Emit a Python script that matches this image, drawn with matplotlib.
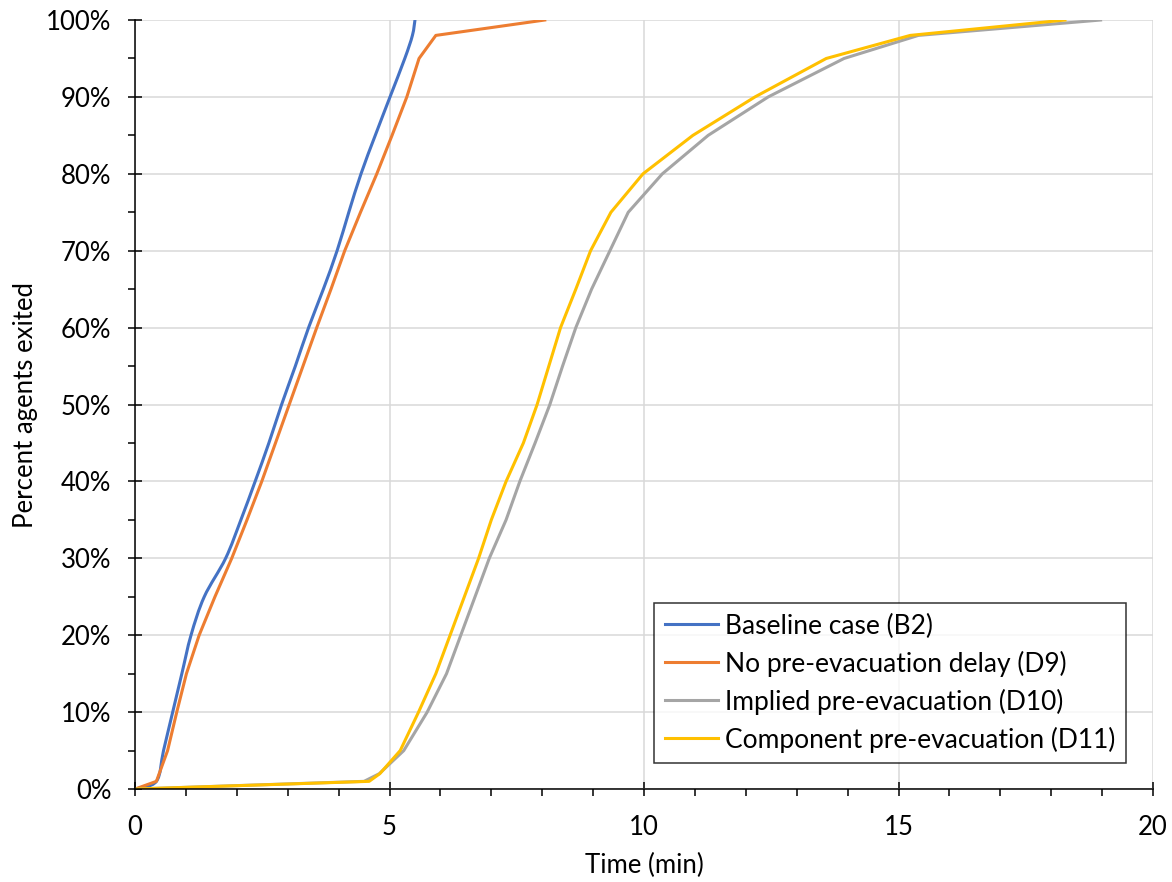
import numpy as np
import matplotlib.pyplot as plt
from matplotlib.path import Path
from matplotlib.patches import PathPatch
from matplotlib.ticker import MultipleLocator, PercentFormatter

# percent of agents exited (y) for each series
pct_b2 = [0, 1, 5, 10, 15, 20, 25, 30, 35, 40, 45, 50, 55, 60, 65, 70, 75, 80, 85, 90, 95, 98, 100]
time_b2 = [0, 0.42, 0.56, 0.74, 0.92, 1.1, 1.36, 1.78, 2.08, 2.36, 2.63, 2.88, 3.15, 3.41, 3.7, 3.97, 4.2, 4.44, 4.72, 5.01, 5.3, 5.45, 5.5]

pct_d9 = [0, 1, 5, 10, 15, 20, 25, 30, 35, 40, 45, 50, 55, 60, 65, 70, 75, 80, 85, 90, 95, 98, 100]
time_d9 = [0, 0.42, 0.64, 0.82, 1.01, 1.26, 1.57, 1.9, 2.2, 2.49, 2.76, 3.03, 3.3, 3.57, 3.85, 4.12, 4.43, 4.75, 5.05, 5.34, 5.58, 5.91, 8.05]

pct_d10 = [0, 1, 2, 5, 10, 15, 20, 25, 30, 35, 40, 45, 50, 55, 60, 65, 70, 75, 80, 85, 90, 95, 98, 100]
time_d10 = [0, 4.5, 4.8, 5.28, 5.74, 6.12, 6.4, 6.68, 6.96, 7.29, 7.56, 7.86, 8.15, 8.4, 8.66, 8.97, 9.33, 9.69, 10.36, 11.26, 12.44, 13.93, 15.39, 18.97]

pct_d11 = [0, 1, 2, 5, 10, 15, 20, 25, 30, 35, 40, 45, 50, 55, 60, 65, 70, 75, 80, 85, 90, 95, 98, 100]
time_d11 = [0, 4.6, 4.81, 5.21, 5.57, 5.91, 6.19, 6.47, 6.75, 7.0, 7.29, 7.63, 7.9, 8.13, 8.36, 8.66, 8.95, 9.35, 9.98, 10.96, 12.18, 13.58, 15.23, 18.27]

plt.rcParams['font.family'] = ['Lato', 'DejaVu Sans']

def smooth_path(xs, ys):
    # bezier through the points, like a spreadsheet "smoothed line"
    pts = np.column_stack([xs, ys]).astype(float)
    n = len(pts)
    verts = [pts[0]]
    codes = [Path.MOVETO]
    for i in range(n - 1):
        p0 = pts[i - 1] if i > 0 else pts[i]
        p1 = pts[i]
        p2 = pts[i + 1]
        p3 = pts[i + 2] if i + 2 < n else pts[i + 1]
        verts += [p1 + (p2 - p0) / 6, p2 - (p3 - p1) / 6, p2]
        codes += [Path.CURVE4] * 3
    return Path(verts, codes)

fig = plt.figure(figsize=(11.72, 8.82), dpi=100)
ax = fig.add_axes([0.1152, 0.1054, 0.8686, 0.8719])

ax.add_patch(PathPatch(smooth_path(time_b2, pct_b2), fill=False, edgecolor="#4472C4",
                       lw=2.2, capstyle="round", joinstyle="round"))
ax.plot([], [], color="#4472C4", lw=2.2, label="Baseline case (B2)")
ax.plot(time_d9, pct_d9, color="#ED7D31", lw=2.2, label="No pre-evacuation delay (D9)")
ax.plot(time_d10, pct_d10, color="#A5A5A5", lw=2.2, label="Implied pre-evacuation (D10)")
ax.plot(time_d11, pct_d11, color="#FFC000", lw=2.2, label="Component pre-evacuation (D11)")

ax.set_xlim(0, 20)
ax.set_ylim(0, 100)
ax.xaxis.set_major_locator(MultipleLocator(5))
ax.xaxis.set_minor_locator(MultipleLocator(1))
ax.yaxis.set_major_locator(MultipleLocator(10))
ax.yaxis.set_minor_locator(MultipleLocator(5))
ax.yaxis.set_major_formatter(PercentFormatter(decimals=0))

ax.grid(True, which="major", color="#D9D9D9", lw=1.1)
ax.set_axisbelow(True)
for s in ["top", "right"]:
    ax.spines[s].set_visible(False)
for s in ["left", "bottom"]:
    ax.spines[s].set_linewidth(1.1)

ax.tick_params(which="major", direction="inout", length=10, width=1.1, labelsize=18.5)
ax.tick_params(which="minor", direction="out", length=5, width=1.1)
ax.tick_params(axis="x", which="major", pad=14)
ax.tick_params(axis="y", which="major", pad=12)

ax.set_xlabel("Time (min)", fontsize=18.5, labelpad=9)
ax.set_ylabel("Percent agents exited", fontsize=18.5, labelpad=6)

leg = ax.legend(loc="upper left", bbox_to_anchor=(0.51, 0.242), borderaxespad=0,
                fontsize=19, frameon=True, fancybox=False, handlelength=2.0,
                handletextpad=0.3, labelspacing=0.45, borderpad=0.4)
leg.get_frame().set_edgecolor("black")
leg.get_frame().set_linewidth(1.1)
for line in leg.get_lines():
    line.set_linewidth(2.2)

fig.savefig("out.png", dpi=100)
